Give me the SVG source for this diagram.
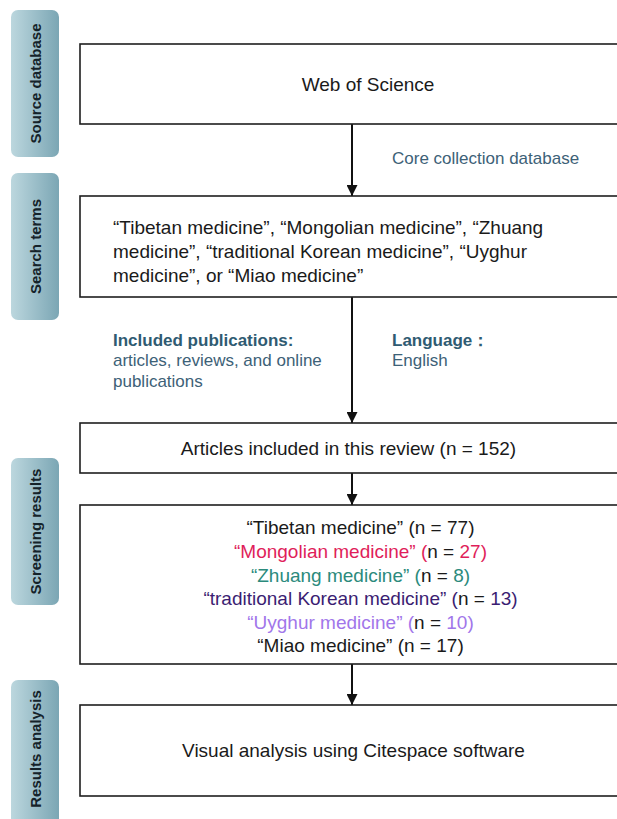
<svg xmlns="http://www.w3.org/2000/svg" width="617" height="819" viewBox="0 0 617 819">
<style>
.box{fill:#fff;stroke:#1e1e1e;stroke-width:1.6}
.side{fill:url(#sg)}
.sl{font-family:"Liberation Sans",Arial,sans-serif;font-size:15px;font-weight:bold;fill:#15232a;text-anchor:middle}
.t{font-family:"Liberation Sans",Arial,sans-serif;font-size:19px;fill:#1a1a1a}
.lb{font-family:"Liberation Sans",Arial,sans-serif;font-size:17px;fill:#3d6177}
.lbb{font-weight:bold;fill:#2f5b72}
.conn{stroke:#111;stroke-width:2;fill:none;marker-end:url(#ah)}
.mg{fill:#e01e5a}.zh{fill:#2b8a7c}.ko{fill:#3b1d72}.uy{fill:#a176ea}
</style>
<defs>
<linearGradient id="sg" x1="0" y1="0" x2="1" y2="0">
<stop offset="0" stop-color="#bcd7de"/>
<stop offset="1" stop-color="#7ba6b4"/>
</linearGradient>
<marker id="ah" viewBox="0 0 10 10" refX="10" refY="5" markerWidth="5.5" markerHeight="5.5" markerUnits="strokeWidth" orient="auto">
<path d="M0,0 L10,5 L0,10 z" fill="#111"/>
</marker>
</defs>
<g id="side-labels">
<g id="lbl-source"><rect class="side" x="11" y="10" width="48" height="147" rx="7"/><text class="sl" transform="translate(40.5,83.5) rotate(-90)">Source database</text></g>
<g id="lbl-search"><rect class="side" x="11" y="173" width="48" height="147" rx="7"/><text class="sl" transform="translate(40.5,246.5) rotate(-90)">Search terms</text></g>
<g id="lbl-screening"><rect class="side" x="11" y="458" width="48" height="147" rx="7"/><text class="sl" transform="translate(40.5,531.5) rotate(-90)">Screening results</text></g>
<g id="lbl-results"><rect class="side" x="11" y="680" width="48" height="150" rx="7"/><text class="sl" transform="translate(40.5,749) rotate(-90)">Results analysis</text></g>
</g>
<g id="connectors">
<line class="conn" x1="352" y1="124" x2="352" y2="196"/>
<line class="conn" x1="352" y1="297" x2="352" y2="423"/>
<line class="conn" x1="352" y1="473" x2="352" y2="505"/>
<line class="conn" x1="352" y1="664" x2="352" y2="705"/>
</g>
<g id="lbl-core"><text class="lb" x="392" y="164">Core collection database</text></g>
<g id="lbl-included"><text class="lb" x="113" y="346"><tspan class="lbb">Included publications:</tspan></text><text class="lb" x="113" y="366">articles, reviews, and online</text><text class="lb" x="113" y="387">publications</text></g>
<g id="lbl-language"><text class="lb" x="392" y="346"><tspan class="lbb">Language：</tspan></text><text class="lb" x="392" y="366">English</text></g>
<g id="n-wos"><rect class="box" x="80" y="44" width="545" height="80"/><text class="t" x="368" y="91" text-anchor="middle">Web of Science</text></g>
<g id="n-terms"><rect class="box" x="80" y="196" width="545" height="101"/>
<text class="t" x="113" y="234">“Tibetan medicine”, “Mongolian medicine”, “Zhuang</text>
<text class="t" x="113" y="258">medicine”, “traditional Korean medicine”, “Uyghur</text>
<text class="t" x="113" y="282">medicine”, or “Miao medicine”</text></g>
<g id="n-articles"><rect class="box" x="80" y="423" width="545" height="50"/><text class="t" x="348.5" y="455" text-anchor="middle">Articles included in this review (n = 152)</text></g>
<g id="n-screening"><rect class="box" x="80" y="505" width="545" height="159"/>
<text class="t" x="360.5" y="534" text-anchor="middle">“Tibetan medicine” (n = 77)</text>
<text class="t" x="360.5" y="558" text-anchor="middle"><tspan class="mg">“Mongolian medicine” (</tspan>n = <tspan class="mg">27)</tspan></text>
<text class="t" x="360.5" y="582" text-anchor="middle"><tspan class="zh">“Zhuang medicine” (</tspan>n = <tspan class="zh">8)</tspan></text>
<text class="t" x="360.5" y="605" text-anchor="middle"><tspan class="ko">“traditional Korean medicine” (</tspan>n = <tspan class="ko">13)</tspan></text>
<text class="t" x="360.5" y="629" text-anchor="middle"><tspan class="uy">“Uyghur medicine” (</tspan>n = <tspan class="uy">10)</tspan></text>
<text class="t" x="360.5" y="652" text-anchor="middle">“Miao medicine” (n = 17)</text></g>
<g id="n-visual"><rect class="box" x="80" y="705" width="545" height="91"/><text class="t" x="353.5" y="757" text-anchor="middle">Visual analysis using Citespace software</text></g>
</svg>
